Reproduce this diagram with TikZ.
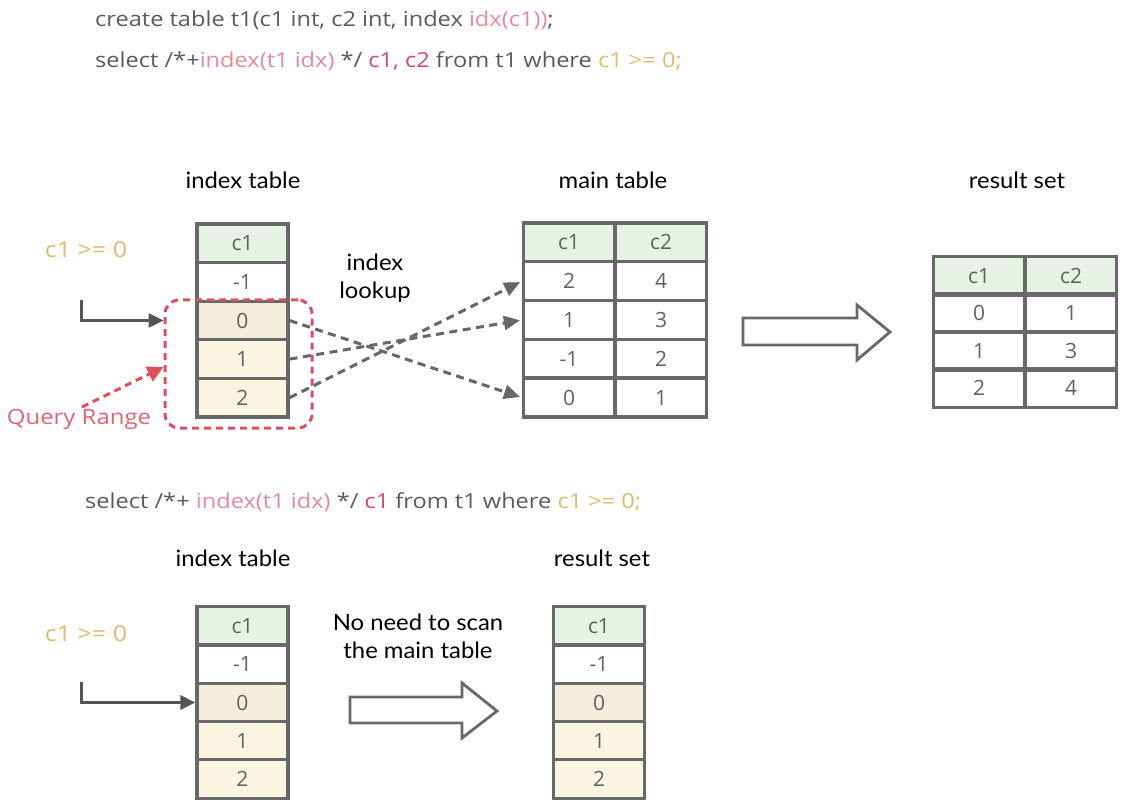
\documentclass[tikz,border=0pt]{standalone}
\usepackage{fontspec}
\setmainfont{Open Sans}
\newfontfamily\hand[FakeStretch=1.06]{Lato}
\newfontfamily\sqlfont[FakeStretch=1.14]{Open Sans}
\usetikzlibrary{arrows.meta}
\definecolor{txt}{HTML}{5A5A5A}
\definecolor{pinktxt}{HTML}{E88A95}
\definecolor{redtxt}{HTML}{D24A5C}
\definecolor{yeltxt}{HTML}{DDBA6E}
\definecolor{border}{HTML}{686868}
\definecolor{celltxt}{HTML}{606060}
\definecolor{hdr}{HTML}{E6F2E3}
\definecolor{rowa}{HTML}{F3EDDC}
\definecolor{rowb}{HTML}{FAF5E1}
\definecolor{rangered}{HTML}{D9505F}
\definecolor{qtxt}{HTML}{DE6472}
\definecolor{arrgrey}{HTML}{555555}
\definecolor{dashgrey}{HTML}{666666}
\begin{document}
\begin{tikzpicture}[x=1pt,y=-1pt,
  cell/.style={draw=border, line width=3.2pt, minimum width=91pt, minimum height=38.6pt, inner sep=0pt, font=\fontsize{21}{21}\selectfont, text=celltxt},
  hdrcell/.style={cell, fill=hdr},
  rowacell/.style={cell, fill=rowa},
  rowbcell/.style={cell, fill=rowb},
  sql/.style={anchor=base west, inner sep=0pt, font=\sqlfont\fontsize{20.7}{21}\selectfont, text=txt},
  handlbl/.style={inner sep=0pt, font=\hand\fontsize{22.5}{28}\selectfont, text=black, align=center},
  condlbl/.style={inner sep=0pt, font=\sqlfont\fontsize{22}{22}\selectfont, text=yeltxt},
  hollow/.style={draw=border, line width=2.8pt, fill=white, line join=miter},
  elbow/.style={draw=arrgrey, line width=3pt, -{Triangle[length=15pt,width=14pt]}},
  lookup/.style={draw=dashgrey, line width=3pt, dash pattern=on 8pt off 5.5pt, -{Triangle[length=16pt,width=14pt]}, shorten >=2pt},
  rangebox/.style={draw=rangered, line width=3pt, dash pattern=on 7pt off 5pt, rounded corners=14pt},
  rangearrow/.style={draw=rangered, line width=3pt, dash pattern=on 7pt off 5pt, -{Triangle[length=16pt,width=16pt]}}
]
\useasboundingbox (0,0) rectangle (1125,810);

% SQL lines
\node[sql] (sql1) at (95,27) {create table t1(c1 int, c2 int, index \textcolor{pinktxt}{idx(c1))};};
\node[sql] (sql2) at (95,68) {select /*+\textcolor{pinktxt}{index(t1 idx)} */ \textcolor{redtxt}{c1, c2} from t1 where \textcolor{yeltxt}{c1 >= 0;}};
\node[sql] (sql3) at (85,508) {select /*+ \textcolor{pinktxt}{index(t1 idx)} */ \textcolor{redtxt}{c1} from t1 where \textcolor{yeltxt}{c1 >= 0;}};

% labels
\node[handlbl] (lblidx) at (243,180) {index table};
\node[handlbl] (lblmain) at (613,180) {main table};
\node[handlbl] (lblres) at (1017,180) {result set};
\node[handlbl] (lbllookup) at (375,278) {index\\lookup};
\node[handlbl] (lblidx2) at (233,558) {index table};
\node[handlbl] (lblres2) at (602,558) {result set};
\node[handlbl] (lblnoneed) at (418,636) {No need to scan\\the main table};
\node[condlbl] (cond1) at (86,250) {c1 >= 0};
\node[condlbl] (cond2) at (86,634) {c1 >= 0};
\node[inner sep=0pt, font=\sqlfont\fontsize{21}{21}\selectfont, text=qtxt] (qrange) at (79,419) {Query Range};

% index table (top)
\node[hdrcell] (i0) at (242.5,243.3) {c1};
\node[cell] (i1) at (242.5,281.9) {-1};
\node[rowacell] (i2) at (242.5,320.5) {0};
\node[rowbcell] (i3) at (242.5,359.1) {1};
\node[rowbcell] (i4) at (242.5,397.7) {2};

% main table
\begin{scope}[every node/.append style={minimum width=92pt, minimum height=38.8pt}]
\node[hdrcell] (m0a) at (569,242.4) {c1};
\node[hdrcell] (m0b) at (661,242.4) {c2};
\node[cell] (m1a) at (569,281.2) {2};
\node[cell] (m1b) at (661,281.2) {4};
\node[cell] (m2a) at (569,320) {1};
\node[cell] (m2b) at (661,320) {3};
\node[cell] (m3a) at (569,358.8) {-1};
\node[cell] (m3b) at (661,358.8) {2};
\node[cell] (m4a) at (569,397.6) {0};
\node[cell] (m4b) at (661,397.6) {1};
\end{scope}

% result set (top)
\begin{scope}[every node/.append style={minimum width=92pt, minimum height=37.5pt}]
\node[hdrcell] (r0a) at (979,275.75) {c1};
\node[hdrcell] (r0b) at (1071,275.75) {c2};
\node[cell] (r1a) at (979,313.25) {0};
\node[cell] (r1b) at (1071,313.25) {1};
\node[cell] (r2a) at (979,350.75) {1};
\node[cell] (r2b) at (1071,350.75) {3};
\node[cell] (r3a) at (979,388.25) {2};
\node[cell] (r3b) at (1071,388.25) {4};
\end{scope}

% bottom index table and result set
\begin{scope}[every node/.append style={minimum height=38.2pt}]
\node[hdrcell] (j0) at (242.5,626.1) {c1};
\node[cell] (j1) at (242.5,664.3) {-1};
\node[rowacell] (j2) at (242.5,702.5) {0};
\node[rowbcell] (j3) at (242.5,740.7) {1};
\node[rowbcell] (j4) at (242.5,778.9) {2};
\node[hdrcell] (k0) at (599,626.1) {c1};
\node[cell] (k1) at (599,664.3) {-1};
\node[rowacell] (k2) at (599,702.5) {0};
\node[rowbcell] (k3) at (599,740.7) {1};
\node[rowbcell] (k4) at (599,778.9) {2};
\end{scope}

% query range box
\node[rangebox, minimum width=147pt, minimum height=128pt, inner sep=0pt] (range) at (238.5,364) {};

% elbow arrows
\coordinate (e1) at (81,300);
\draw[elbow] (e1) |- (range.west |- i2.west);
\coordinate (e2) at (81,682);
\draw[elbow] (e2) |- (j2.west);

% range arrow
\coordinate (qstart) at (82,407);
\draw[rangearrow] (qstart) -- (range.west |- 0,367);

% lookup arrows
\draw[lookup] (i2.east) -- (m4a.west);
\draw[lookup] (i3.east) -- (m2a.west);
\draw[lookup] (i4.east) -- (m1a.west);

% hollow arrows
\draw[hollow] (743,318) -- (857,318) -- (857,305) -- (890,332) -- (857,360) -- (857,345) -- (743,345) -- cycle;
\draw[hollow] (350,697) -- (462,697) -- (462,683) -- (497,711) -- (462,738) -- (462,723) -- (350,723) -- cycle;
\end{tikzpicture}
\end{document}
